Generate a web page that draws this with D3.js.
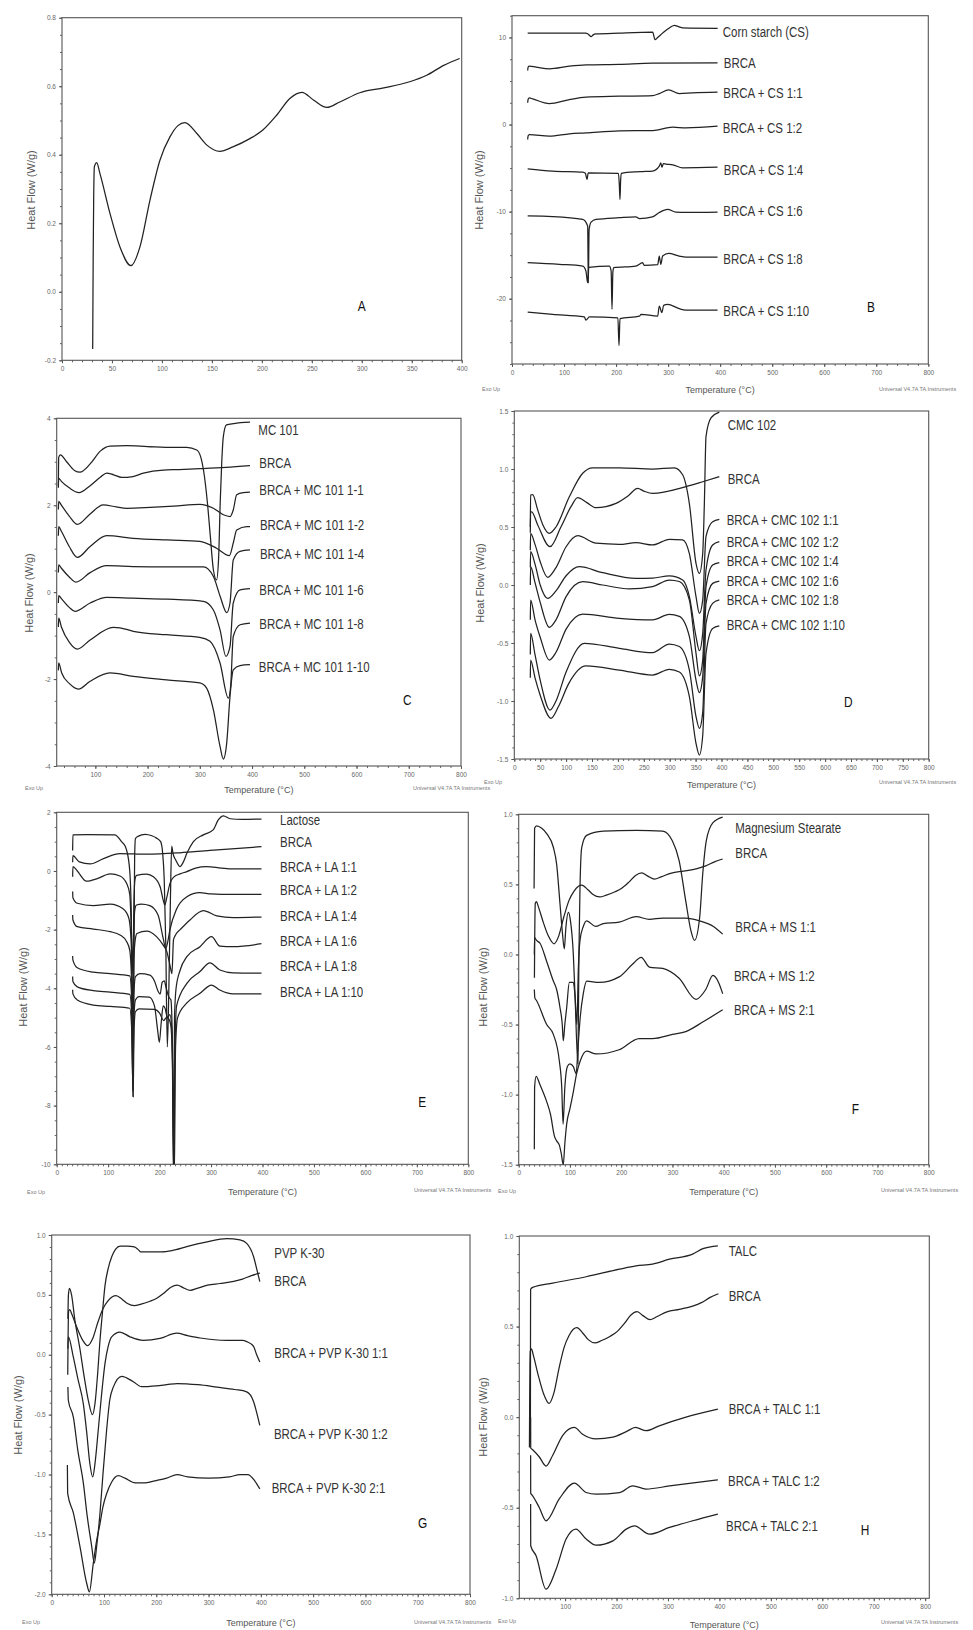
<!DOCTYPE html>
<html><head><meta charset="utf-8">
<script src="https://cdn.jsdelivr.net/npm/d3@7"></script>
<style>body{margin:0;background:#fff}svg{display:block;background:#fff}</style>
</head><body>
<svg id="fig" width="973" height="1630"></svg>
<script>
// ================= DATA: [temperature °C, heat flow W/g] =================
// pure BRCA (panels A, F, G, H)
const brca = [[30.7,-0.167],[31.2,0.1],[31.7,0.27],[32.4,0.365],[34.7,0.377],[38,0.345],[48,0.229],[58,0.131],[69,0.076],[78,0.131],[88,0.267],[98,0.384],[108,0.452],[116,0.485],[123,0.494],[135,0.462],[145,0.428],[158,0.41],[171,0.423],[188,0.447],[201,0.472],[215,0.516],[228,0.564],[240,0.582],[252,0.559],[265,0.538],[278,0.554],[298,0.581],[322,0.595],[348,0.613],[365,0.632],[382,0.661],[398,0.681]];

// ---- Panel B : corn starch ----
const bCS   = [[30.1,10.5],[90,10.5],[142,10.5],[146,10.4],[152.4,10.1],[156,10.3],[161.4,10.4],[206,10.5],[270.3,10.6],[274.8,9.75],[280,10.0],[289.5,10.5],[300,11.0],[311.9,11.4],[320,11.25],[327.9,11.1],[395.2,11.05]];
const bBRCA = [[30.1,6.2],[31,6.6],[33.3,6.7],[46.1,6.6],[71.7,6.4],[110.2,6.7],[142.2,6.85],[206,6.92],[270,7.04],[395,7.07]];
const bCS11 = [[30.1,2.5],[31,2.9],[33.3,3.06],[39.7,2.95],[71.7,2.41],[110.2,2.87],[142.2,3.14],[206,3.25],[270.3,3.33],[283,3.56],[301,3.98],[321.5,3.56],[347,3.63],[395,3.71]];
const bCS12 = [[30.1,-1.72],[31,-1.3],[33.3,-1.15],[71.7,-1.34],[110.2,-1.07],[142.2,-0.96],[206,-0.73],[270.3,-0.69],[308.7,-0.31],[334.3,-0.38],[395,-0.19]];
const bCS14 = [[30.1,-5.09],[78,-5.35],[136,-5.47],[141,-5.6],[144.1,-6.31],[146.5,-5.55],[204.5,-5.6],[206.3,-7.0],[207.5,-8.6],[208.7,-6.5],[210,-5.6],[238,-5.43],[251,-5.4],[270,-5.35],[283,-4.78],[286,-4.4],[288,-4.9],[291,-4.5],[296,-4.55],[309,-4.63],[328,-4.97],[395,-4.9]];
const bCS16 = [[30.1,-10.5],[78,-10.57],[136,-10.9],[145.4,-11.66],[146.7,-18.2],[148.2,-12.05],[152,-11.2],[161.4,-10.9],[206,-10.7],[238,-10.6],[245,-10.8],[270,-10.6],[283,-10.1],[299,-9.75],[315,-10.06],[334,-10.1],[395,-10.06]];
const bCS18 = [[30.1,-15.87],[91,-16.06],[136,-16.25],[142,-16.8],[145.4,-18.16],[147.3,-16.4],[187,-16.25],[190.5,-16.8],[192.2,-21.2],[193.8,-17],[195.4,-16.44],[238,-16.25],[251,-15.87],[254,-16.18],[280,-16.1],[283,-15.1],[286,-16.06],[289.5,-15.1],[301,-14.8],[321.5,-15.1],[334,-15.22],[395,-15.22]];
const bCS110= [[30.1,-21.53],[78,-21.8],[139,-22.1],[142,-22.45],[148.6,-22.1],[203.5,-22.2],[205.6,-25.4],[207.5,-22.3],[245,-22.0],[248,-21.8],[280,-22.0],[283,-20.84],[288,-21.6],[291.4,-20.77],[299,-20.65],[321.5,-21.15],[334,-21.3],[395,-21.3]];

// ---- Panel C : MC 101 ----
const cMC   = [[29.2,2.4],[29.8,3.1],[33,3.16],[45,3.0],[60,2.8],[70.6,2.76],[90,2.95],[110,3.25],[128,3.36],[160,3.37],[200,3.35],[250,3.33],[275,3.33],[294,3.27],[302,3.1],[307,2.81],[315,2.0],[320,1.3],[326,0.51],[332,0.28],[336,0.8],[339,2.05],[342,3.0],[345,3.58],[351,3.85],[365,3.88],[396,3.91]];
const cBRCA = [[29.2,2.45],[29.8,2.62],[35,2.55],[50,2.4],[68.7,2.29],[90,2.45],[110,2.65],[121.7,2.74],[135,2.7],[150.4,2.64],[172,2.66],[192,2.74],[230,2.81],[260,2.82],[300,2.84],[350,2.87],[396,2.91]];
const cMC11 = [[29.2,1.9],[29.8,2.09],[35,2.0],[50,1.75],[65.5,1.56],[90,1.8],[115,2.01],[140,1.96],[160,1.93],[205,1.95],[250,1.98],[300,2.02],[326,1.93],[345,1.78],[358,1.74],[364,1.89],[370.6,2.24],[383,2.29],[396,2.3]];
const cMC12 = [[29.2,1.3],[29.8,1.51],[35,1.4],[50,1.05],[65.5,0.8],[90,1.05],[121.7,1.3],[172,1.24],[237,1.2],[300,1.17],[332,1.01],[356.5,0.84],[364,1.13],[370.6,1.43],[390,1.51],[396,1.51]];
const cMC14 = [[29.2,0.45],[29.8,0.63],[35,0.55],[50,0.35],[63,0.23],[90,0.45],[121.7,0.61],[172,0.59],[237,0.58],[306.7,0.58],[326,0.36],[339,-0.1],[351.4,-0.47],[357.8,-0.25],[364,0.74],[377,0.94],[396,0.97]];
const cMC16 = [[29.2,-0.25],[29.8,-0.08],[35,-0.15],[50,-0.35],[61,-0.44],[90,-0.25],[121.7,-0.12],[172,-0.14],[237,-0.16],[306.7,-0.21],[326,-0.41],[338.7,-0.87],[350,-1.48],[357.8,-1.25],[364,-0.25],[377,0.05],[396,0.08]];
const cMC18 = [[29.2,-0.8],[29.8,-0.6],[35,-0.8],[50,-1.15],[65.5,-1.31],[90,-1.1],[134.5,-0.81],[147,-0.82],[172.7,-0.9],[236.6,-0.98],[300,-1.04],[319.5,-1.13],[338.7,-1.63],[354.6,-2.44],[359,-2.17],[364,-1.02],[377,-0.75],[396,-0.71]];
const cMC110= [[29.2,-1.8],[29.8,-1.63],[35.6,-1.86],[50,-2.1],[67.5,-2.23],[90,-2.05],[128,-1.86],[172.7,-1.94],[236.6,-2.02],[300,-2.09],[313,-2.21],[326,-2.71],[338.7,-3.55],[345,-3.84],[351.4,-3.48],[357.8,-2.4],[364,-1.79],[377,-1.69],[396,-1.67]];

// ---- Panel D : CMC 102 ----
const dCMC  = [[30.9,0.5],[31.5,0.776],[35.4,0.78],[45,0.65],[55,0.52],[67.6,0.445],[80.5,0.5],[106.2,0.76],[132,0.963],[151.2,1.01],[202.7,1.01],[267,1.0],[309,1.01],[325,0.95],[338,0.7],[350.8,0.187],[357.3,0.1],[363.7,0.27],[366.9,0.7],[370.1,1.28],[379.7,1.44],[395.8,1.49]];
const dBRCA = [[30.9,0.45],[31.5,0.63],[33.5,0.63],[45,0.52],[68.9,0.33],[90,0.5],[110,0.68],[122.3,0.753],[140,0.71],[157.7,0.667],[196.3,0.704],[220,0.77],[238.1,0.833],[250,0.81],[267,0.79],[331.5,0.848],[363.7,0.89],[395.8,0.934]];
const dC11  = [[30.9,0.3],[31.5,0.445],[40,0.35],[50,0.2],[64.4,0.066],[80.5,0.15],[100,0.33],[122.3,0.425],[157.7,0.36],[202.7,0.35],[235,0.365],[267,0.345],[299.3,0.394],[325,0.39],[338,0.27],[350.8,-0.1],[357.3,-0.244],[363.7,-0.13],[370.1,0.42],[382.9,0.546],[395.8,0.566]];
const dC12  = [[30.9,0.15],[31.5,0.287],[40,0.18],[50,0.0],[64.4,-0.115],[80.5,-0.05],[100,0.08],[125.5,0.158],[170.6,0.106],[235,0.057],[267,0.06],[299.3,0.078],[325,0.043],[338,-0.1],[350.8,-0.445],[357.3,-0.566],[363.7,-0.417],[370.1,0.129],[382.9,0.345],[395.8,0.374]];
const dC14  = [[30.9,0.0],[31.5,0.158],[40,0.02],[50,-0.15],[67.6,-0.365],[80.5,-0.3],[100,-0.1],[132,0.029],[170.6,0.0],[222,-0.034],[267,-0.014],[299.3,0.043],[318.6,0.03],[338,-0.13],[350.8,-0.59],[357.3,-0.784],[363.7,-0.647],[370.1,-0.014],[382.9,0.172],[395.8,0.193]];
const dC16  = [[30.9,-0.3],[31.5,-0.13],[40,-0.3],[50,-0.45],[67.6,-0.647],[80.5,-0.58],[100,-0.38],[132,-0.25],[202.7,-0.287],[267,-0.3],[299.3,-0.253],[318.6,-0.27],[338,-0.445],[350.8,-0.82],[357.3,-0.928],[363.7,-0.79],[370.1,-0.158],[382.9,0.014],[395.8,0.034]];
const dC18  = [[30.9,-0.6],[31.5,-0.417],[40,-0.6],[50,-0.82],[68.9,-1.078],[80.5,-1.0],[100,-0.75],[135.2,-0.503],[202.7,-0.546],[267,-0.583],[299.3,-0.509],[318.6,-0.53],[338,-0.733],[350.8,-1.135],[357.3,-1.236],[363.7,-1.1],[370.1,-0.33],[382.9,-0.158],[395.8,-0.129]];
const dC110 = [[30.9,-0.8],[31.5,-0.647],[40,-0.8],[50,-0.95],[70.8,-1.149],[85,-1.05],[105,-0.85],[138.4,-0.698],[202.7,-0.733],[267,-0.776],[299.3,-0.727],[318.6,-0.75],[338,-0.963],[350.8,-1.365],[357.3,-1.466],[363.7,-1.3],[370.1,-0.589],[382.9,-0.374],[395.8,-0.353]];

// ---- Panel E : lactose ----
const eLA   = [[31,0.7],[31.5,1.23],[60,1.24],[113,1.23],[126,1.0],[133,0.85],[136,0.7],[142,0.0],[145,-1.5],[147,-6.0],[148.5,-7.7],[150,-3],[151.5,0.5],[153,1.1],[158,1.18],[172,1.25],[185,1.2],[194,1.12],[202,1.0],[206,0.6],[209,-0.3],[212,-2.5],[215,-6],[218,-4],[221,-1],[223.5,0.85],[226,0.6],[232,0.35],[239.6,0.15],[246,0.3],[253,0.6],[265.7,1.0],[285,1.23],[304,1.4],[314,1.74],[324,1.88],[337,1.78],[360,1.76],[398,1.77]];
const eBRCA = [[31,0.3],[31.5,0.52],[44,0.31],[65,0.24],[91,0.42],[123,0.59],[175,0.57],[240,0.62],[298,0.7],[340,0.75],[398,0.83]];
const eLA11 = [[31,-0.2],[31.5,0.15],[40,0.0],[58,-0.35],[80,-0.25],[104,-0.1],[123,-0.17],[136,-0.43],[142,-0.8],[146,-2.5],[148,-3.5],[150,-1.2],[152,-0.3],[155.4,-0.15],[175,-0.11],[188,-0.2],[201,-0.54],[207,-0.995],[210,-1.16],[214,-0.9],[220,-0.43],[228,-0.2],[240,-0.1],[253,-0.02],[270,0.1],[291.5,0.15],[320,0.1],[343,0.07],[398,0.07]];
const eLA12 = [[31,-0.7],[31.5,-0.91],[40,-1.1],[71,-1.18],[104,-1.13],[129,-1.29],[140,-1.6],[145,-2.5],[148,-5.2],[150,-2],[152,-1.3],[155,-1.16],[165,-1.13],[181,-1.18],[197,-1.5],[207,-2.3],[212,-2.64],[216,-2.4],[220,-2.01],[233,-1.3],[253,-0.88],[278,-0.74],[300,-0.78],[340,-0.8],[398,-0.8]];
const eLA14 = [[31,-1.5],[31.5,-1.67],[40,-1.9],[71,-1.98],[104,-2.07],[123,-2.18],[136,-2.41],[142,-2.7],[146,-4],[148,-5.5],[150,-3],[153,-2.3],[156,-2.13],[175,-2.05],[194,-2.24],[207,-2.53],[214,-2.75],[220,-3.2],[224,-3.5],[227,-2.35],[232,-2.15],[240,-2.0],[259,-1.67],[285,-1.35],[311,-1.53],[343,-1.59],[398,-1.57]];
const eLA16 = [[31,-2.9],[31.5,-3.04],[40,-3.3],[71,-3.45],[104,-3.5],[142,-3.58],[146,-4.5],[148,-6.5],[150,-4.2],[153,-3.6],[162,-3.5],[181,-3.55],[190,-3.75],[197,-4.1],[201,-4.2],[205,-3.8],[209,-3.75],[213,-4.0],[218,-4.3],[222,-4.4],[225,-6],[227,-10.5],[229,-5],[232,-4.0],[240,-3.375],[253,-2.92],[278.5,-2.58],[301,-2.24],[317,-2.56],[343,-2.58],[398,-2.48]];
const eLA18 = [[31,-3.6],[31.5,-3.77],[40,-3.95],[71,-4.08],[104,-4.13],[142,-4.21],[146,-5],[148,-7.5],[150,-5],[153,-4.4],[160,-4.28],[180,-4.3],[190,-4.6],[196,-5.4],[199.5,-5.84],[203,-5.2],[207,-4.6],[211,-4.7],[215,-5.0],[220,-4.9],[224,-5.5],[227.5,-10.5],[230,-6],[233,-4.6],[253,-3.83],[278.5,-3.43],[298,-3.13],[317,-3.375],[343,-3.47],[398,-3.48]];
const eLA110= [[31,-4.05],[31.5,-4.19],[40,-4.4],[71,-4.57],[104,-4.62],[142,-4.68],[146,-5.5],[148.5,-7.7],[150.5,-5.3],[153,-4.8],[160,-4.7],[190,-4.72],[200,-4.85],[208,-5.1],[213,-5.0],[218,-5.05],[222,-5.3],[225,-6.5],[228.5,-10.5],[231,-6],[235,-5],[253,-4.5],[278.5,-4.17],[301,-3.89],[317,-4.06],[343,-4.19],[398,-4.19]];

// ---- Panel F : magnesium stearate ----
const fMS   = [[30,0.47],[31,0.9],[35,0.918],[45,0.9],[55,0.86],[67.6,0.765],[74,0.645],[80.6,0.36],[85.5,0.146],[89,0.04],[92,0.19],[97,0.3],[101,0.24],[106.6,0.0],[110,-0.3],[115.5,-0.78],[117.5,0.0],[119.6,0.478],[123,0.764],[132.6,0.85],[165,0.88],[230,0.886],[281,0.88],[300,0.81],[313,0.67],[326,0.38],[336,0.17],[343,0.1],[353,0.26],[359,0.57],[366,0.81],[379,0.94],[398,0.98]];
const fMS11 = [[30.5,0.0],[31,0.12],[35,0.1],[41.6,0.08],[54.6,-0.05],[67.6,-0.19],[74,-0.25],[80.6,-0.38],[85,-0.5],[87,-0.616],[90,-0.5],[93.6,-0.38],[98.8,-0.2],[106.6,-0.2],[110,-0.3],[113.5,-0.5],[116.4,-0.1],[119.6,0.1],[126,0.2],[132.6,0.24],[150,0.2],[165,0.22],[196,0.23],[229,0.27],[255,0.25],[281,0.26],[326,0.26],[353,0.24],[380,0.2],[398,0.145]];
const fMS12 = [[30.5,-0.25],[31.5,-0.31],[35,-0.33],[54.6,-0.5],[67.6,-0.57],[79.3,-0.76],[84,-0.95],[86.6,-1.21],[90,-0.95],[95,-0.8],[100,-0.78],[106.6,-0.8],[112,-0.85],[116,-0.65],[120,-0.45],[126,-0.28],[132.6,-0.19],[157,-0.2],[196,-0.16],[222,-0.07],[239,-0.02],[255,-0.09],[281,-0.1],[313,-0.17],[346,-0.32],[365,-0.25],[379,-0.15],[390,-0.2],[398,-0.28]];
const fMS21 = [[30.5,-1.39],[31,-0.95],[34,-0.87],[41.6,-0.93],[54.6,-1.05],[62,-1.14],[70,-1.3],[74,-1.33],[79.3,-1.36],[83,-1.42],[87,-1.5],[90,-1.35],[93.6,-1.21],[100,-1.1],[106.6,-0.98],[113,-0.85],[120,-0.76],[132.6,-0.69],[151,-0.71],[196,-0.68],[235,-0.6],[261,-0.6],[300,-0.57],[326,-0.55],[360,-0.48],[398,-0.395]];

// ---- Panel G : PVP K-30 ----
const gPVP  = [[31,0.3],[32,0.5],[34,0.555],[38,0.5],[44,0.3],[54,0.05],[62,-0.18],[70,-0.38],[78,-0.5],[83,-0.4],[88,-0.15],[92,0.1],[97,0.35],[102,0.58],[108,0.72],[115,0.82],[122,0.88],[131,0.907],[145,0.907],[158,0.9],[165,0.88],[170,0.86],[210,0.86],[230,0.87],[260,0.905],[295,0.94],[335,0.97],[360,0.96],[373,0.93],[386,0.82],[393,0.7],[398,0.61]];
const gPV11 = [[31,0.05],[31.8,0.15],[41.4,-0.02],[50,-0.2],[60.5,-0.41],[67,-0.65],[73,-0.91],[78.4,-1.02],[83,-0.9],[89,-0.63],[95,-0.35],[102,-0.07],[108,0.07],[114.7,0.15],[130.6,0.19],[149.7,0.15],[175,0.12],[207,0.136],[239,0.18],[260,0.16],[284,0.14],[335,0.12],[365,0.12],[373,0.11],[386,0.07],[392,0.0],[398,-0.06]];
const gPV12 = [[31,-0.27],[31.8,-0.38],[41.4,-0.52],[50,-0.8],[60.5,-1.07],[68,-1.35],[76.5,-1.6],[81.5,-1.74],[86,-1.6],[92.4,-1.32],[98,-1.0],[105,-0.63],[111,-0.38],[117.8,-0.27],[134,-0.18],[156,-0.225],[172,-0.267],[200,-0.26],[220,-0.25],[240,-0.24],[280,-0.25],[316,-0.27],[350,-0.29],[373,-0.31],[386,-0.39],[393,-0.5],[398,-0.59]];
const gPV21 = [[30,-0.92],[30.6,-1.16],[41.4,-1.32],[54,-1.6],[67,-1.91],[72,-1.98],[79.6,-1.74],[86,-1.55],[92.4,-1.41],[98,-1.27],[105,-1.16],[115,-1.06],[127.4,-1.01],[140,-1.03],[160,-1.07],[175,-1.07],[200,-1.05],[220,-1.03],[240,-1.0],[260,-1.02],[300,-1.03],[340,-1.02],[360,-1.0],[375,-1.0],[388,-1.05],[398,-1.12]];

// ---- Panel H : talc ----
const hTALC = [[32.6,-0.14],[32.8,0.5],[33,0.706],[37,0.716],[76,0.74],[141,0.775],[206,0.817],[238,0.835],[270,0.845],[303,0.872],[348,0.9],[368,0.93],[397,0.946]];
const hTA11 = [[33,0.0],[33.2,-0.17],[37,-0.18],[50,-0.22],[63,-0.27],[76,-0.21],[95.5,-0.1],[118,-0.057],[134,-0.094],[160,-0.12],[193,-0.11],[219,-0.08],[237,-0.057],[257.5,-0.075],[283,-0.048],[335,0.0],[397,0.044]];
const hTA12 = [[33,-0.21],[33.2,-0.42],[37,-0.434],[50,-0.5],[63,-0.572],[89,-0.45],[118,-0.364],[141,-0.416],[160,-0.425],[206,-0.416],[231.6,-0.379],[257.5,-0.397],[303,-0.38],[397,-0.346]];
const hTA21 = [[33,-0.48],[33.2,-0.71],[43.6,-0.765],[63,-0.95],[82.5,-0.84],[102,-0.673],[121,-0.618],[141,-0.673],[160,-0.707],[193,-0.683],[219,-0.618],[235,-0.6],[264,-0.646],[303,-0.609],[348,-0.572],[397,-0.535]];

// ---- curve names (in-chart labels) ----
const namesB = ["Corn starch (CS)","BRCA","BRCA + CS 1:1","BRCA + CS 1:2","BRCA + CS 1:4","BRCA + CS 1:6","BRCA + CS 1:8","BRCA + CS 1:10"];
const namesC = ["MC 101","BRCA","BRCA + MC 101 1-1","BRCA + MC 101 1-2","BRCA + MC 101 1-4","BRCA + MC 101 1-6","BRCA + MC 101 1-8","BRCA + MC 101 1-10"];
const namesD = ["CMC 102","BRCA","BRCA + CMC 102 1:1","BRCA + CMC 102 1:2","BRCA + CMC 102 1:4","BRCA + CMC 102 1:6","BRCA + CMC 102 1:8","BRCA + CMC 102 1:10"];
const namesE = ["Lactose","BRCA","BRCA + LA 1:1","BRCA + LA 1:2","BRCA + LA 1:4","BRCA + LA 1:6","BRCA + LA 1:8","BRCA + LA 1:10"];
const namesF = ["Magnesium Stearate","BRCA","BRCA + MS 1:1","BRCA + MS 1:2","BRCA + MS 2:1"];
const namesG = ["PVP K-30","BRCA","BRCA + PVP K-30 1:1","BRCA + PVP K-30 1:2","BRCA + PVP K-30 2:1"];
const namesH = ["TALC","BRCA","BRCA + TALC 1:1","BRCA + TALC 1:2","BRCA + TALC 2:1"];

// ---- tick values ----
const ticksX400  = [0,50,100,150,200,250,300,350,400];
const ticksX800  = [0,100,200,300,400,500,600,700,800];
const ticksX800b = [100,200,300,400,500,600,700,800];
const ticksX800d = [0,50,100,150,200,250,300,350,400,450,500,550,600,650,700,750,800];
const ticksYA = [-0.2,0,0.2,0.4,0.6,0.8];
const ticksYB = [-20,-10,0,10];
const ticksYC = [-4,-2,0,2,4];
const ticksYD = [-1.5,-1,-0.5,0,0.5,1,1.5];
const ticksYE = [-10,-8,-6,-4,-2,0,2];
const ticksYF = [-1.5,-1,-0.5,0,0.5,1];
const ticksYG = [-2,-1.5,-1,-0.5,0,0.5,1];
const ticksYH = [-1,-0.5,0,0.5,1];

// ================= LAYOUT (pixels / annotation anchors) =================
const panels = [
 {key:"A", box:[62,17.7,461.7,360.3], xd:[0,400], yd:[-0.2,0.8], xt:ticksX400, xm:10, yt:ticksYA, ym:0.05, yf:".1f",
  curves:[brca], names:[], at:[], letter:[300,-0.04], yTitle:[31,190], xTitle:null, exo:null, univ:null},
 {key:"B", box:[512,15.7,928.3,364], xd:[0,800], yd:[-27.5,12.5], xt:ticksX800, xm:20, yt:ticksYB, ym:2.5, yf:"d",
  curves:[bCS,bBRCA,bCS11,bCS12,bCS14,bCS16,bCS18,bCS110], names:namesB,
  at:[[405,10.66],[407,7.1],[406,3.66],[405,-0.36],[407,-5.22],[406,-9.93],[406,-15.47],[406,-21.38]],
  letter:[690,-20.9], yTitle:[479,190], xTitle:390, exo:[482,389], univ:[879,389]},
 {key:"C", box:[56.7,418.3,461,766], xd:[26,800], yd:[-4,4], xt:ticksX800b, xm:20, yt:ticksYC, ym:0.5, yf:"d",
  curves:[cMC,cBRCA,cMC11,cMC12,cMC14,cMC16,cMC18,cMC110], names:namesC,
  at:[[412,3.73],[414,2.98],[414,2.35],[415,1.54],[415,0.88],[414,0.05],[414,-0.73],[413,-1.72]],
  letter:[697,-2.48], yTitle:[29,593], xTitle:790, exo:[25,788], univ:[413,788]},
 {key:"D", box:[514.3,411,928.7,759], xd:[0,800], yd:[-1.5,1.5], xt:ticksX800d, xm:10, yt:ticksYD, ym:0.1, yf:".1f",
  curves:[dCMC,dBRCA,dC11,dC12,dC14,dC16,dC18,dC110], names:namesD,
  at:[[412,1.38],[412,0.914],[410,0.56],[410,0.373],[410,0.21],[410,0.037],[410,-0.129],[410,-0.347]],
  letter:[645,-1.01], yTitle:[480,583], xTitle:785, exo:[484,782], univ:[879,782]},
 {key:"E", box:[56.7,812.3,468.3,1164.3], xd:[0,800], yd:[-10,2], xt:ticksX800, xm:10, yt:ticksYE, ym:0.5, yf:"d",
  curves:[eLA,eBRCA,eLA11,eLA12,eLA14,eLA16,eLA18,eLA110], names:namesE,
  at:[[434,1.74],[434,1.0],[434,0.145],[434,-0.65],[434,-1.525],[434,-2.38],[434,-3.24],[434,-4.12]],
  letter:[710.6,-7.87], yTitle:[23,987], xTitle:1192, exo:[27,1192], univ:[414,1190]},
 {key:"F", box:[518.7,814.3,928.7,1164.7], xd:[0,800], yd:[-1.5,1], xt:ticksX800, xm:10, yt:ticksYF, ym:0.1, yf:".1f",
  curves:[fMS,brca,fMS11,fMS12,fMS21], names:namesF,
  at:[[422.6,0.906],[422.6,0.724],[422.6,0.193],[420,-0.152],[420,-0.395]],
  letter:[656.8,-1.1], yTitle:[483,987], xTitle:1192, exo:[498,1191], univ:[881,1190]},
 {key:"G", box:[51.7,1235,470,1594.3], xd:[0,800], yd:[-2,1], xt:ticksX800, xm:10, yt:ticksYG, ym:0.1, yf:".1f",
  curves:[gPVP,brca,gPV11,gPV12,gPV21], names:namesG,
  at:[[425.7,0.846],[425.7,0.615],[425.7,0.017],[425,-0.664],[420.7,-1.115]],
  letter:[709.5,-1.407], yTitle:[18.3,1415], xTitle:1623, exo:[22,1622], univ:[414,1622]},
 {key:"H", box:[519.3,1236,929.3,1598.3], xd:[11,808], yd:[-1,1], xt:ticksX800b, xm:10, yt:ticksYH, ym:0.1, yf:".1f",
  curves:[hTALC,brca,hTA11,hTA12,hTA21], names:namesH,
  at:[[418,0.918],[418,0.671],[418,0.044],[416.7,-0.35],[413,-0.6]],
  letter:[683,-0.62], yTitle:[483,1417], xTitle:1625, exo:[498,1621], univ:[881,1622]}
];

// ================= DRAW =================
const svg = d3.select("#fig");
const FONT = "'Liberation Sans', Arial, Helvetica, sans-serif";
const fmtNum = f => v => d3.format(f)(v).replace("\u2212","-");

panels.forEach(p => {
  const [x0,y0,x1,y1] = p.box;
  const x = d3.scaleLinear().domain(p.xd).range([x0,x1]);
  const y = d3.scaleLinear().domain(p.yd).range([y1,y0]);
  const g = svg.append("g").attr("class","panel-"+p.key);

  const clipId = "clip"+p.key;
  g.append("clipPath").attr("id",clipId).append("rect")
    .attr("x",x0).attr("y",y0).attr("width",x1-x0).attr("height",y1-y0);

  // minor ticks
  const eps = 1e-9;
  const xMinor = d3.range(Math.ceil(p.xd[0]/p.xm)*p.xm, p.xd[1]+eps, p.xm);
  const yMinor = d3.range(Math.ceil((p.yd[0]-eps)/p.ym)*p.ym, p.yd[1]+eps, p.ym);
  g.append("g").attr("transform",`translate(0,${y1})`)
    .call(d3.axisBottom(x).tickValues(xMinor).tickSize(2).tickFormat(""))
    .call(s=>{s.select(".domain").remove(); s.selectAll("line").attr("stroke","#666");});
  g.append("g").attr("transform",`translate(${x0},0)`)
    .call(d3.axisLeft(y).tickValues(yMinor).tickSize(2).tickFormat(""))
    .call(s=>{s.select(".domain").remove(); s.selectAll("line").attr("stroke","#666");});

  // major ticks + labels
  g.append("g").attr("transform",`translate(0,${y1})`)
    .call(d3.axisBottom(x).tickValues(p.xt).tickSize(3).tickPadding(3).tickFormat(d3.format("d")))
    .call(s=>{s.select(".domain").remove(); s.selectAll("line").attr("stroke","#555");
      s.selectAll("text").attr("fill","#666").attr("font-size",6.5).attr("font-family",FONT);});
  g.append("g").attr("transform",`translate(${x0},0)`)
    .call(d3.axisLeft(y).tickValues(p.yt).tickSize(3).tickPadding(3).tickFormat(fmtNum(p.yf)))
    .call(s=>{s.select(".domain").remove(); s.selectAll("line").attr("stroke","#555");
      s.selectAll("text").attr("fill","#666").attr("font-size",6.5).attr("font-family",FONT);});

  // frame
  g.append("rect").attr("x",x0).attr("y",y0).attr("width",x1-x0).attr("height",y1-y0)
    .attr("fill","none").attr("stroke","#555").attr("stroke-width",1.1);

  // curves
  const line = d3.line().x(d=>x(d[0])).y(d=>y(d[1])).curve(d3.curveMonotoneX);
  g.append("g").attr("clip-path",`url(#${clipId})`)
    .selectAll("path").data(p.curves).join("path")
    .attr("d",line).attr("fill","none").attr("stroke","#222").attr("stroke-width",1.25)
    .attr("stroke-linejoin","round");

  // curve labels
  g.append("g").selectAll("text").data(p.names).join("text")
    .attr("transform",(d,i)=>`translate(${x(p.at[i][0])},${y(p.at[i][1])}) scale(0.82,1)`)
    .attr("dy","0.36em").attr("font-size",14).attr("font-family",FONT).attr("fill","#333")
    .text(d=>d);

  // panel letter
  g.append("text")
    .attr("transform",`translate(${x(p.letter[0])},${y(p.letter[1])}) scale(0.85,1)`)
    .attr("dy","0.36em").attr("text-anchor","middle")
    .attr("font-size",14).attr("font-family",FONT).attr("fill","#111").text(p.key);

  // y title
  g.append("text").attr("transform",`translate(${p.yTitle[0]},${p.yTitle[1]}) rotate(-90)`)
    .attr("text-anchor","middle").attr("dy","0.35em").attr("font-size",11)
    .attr("font-family",FONT).attr("fill","#555").text("Heat Flow (W/g)");

  if (p.xTitle) {
    g.append("text").attr("x",(x0+x1)/2).attr("y",p.xTitle).attr("dy","0.35em")
      .attr("text-anchor","middle").attr("font-size",9).attr("font-family",FONT)
      .attr("fill","#555").text("Temperature (\u00B0C)");
  }
  if (p.exo) {
    g.append("text").attr("x",p.exo[0]).attr("y",p.exo[1]).attr("dy","0.35em")
      .attr("font-size",5.5).attr("font-family",FONT).attr("fill","#777").text("Exo Up");
  }
  if (p.univ) {
    g.append("text").attr("x",p.univ[0]).attr("y",p.univ[1]).attr("dy","0.35em")
      .attr("font-size",5.5).attr("font-family",FONT).attr("fill","#777")
      .text("Universal V4.7A TA Instruments");
  }
});
</script>
</body></html>
